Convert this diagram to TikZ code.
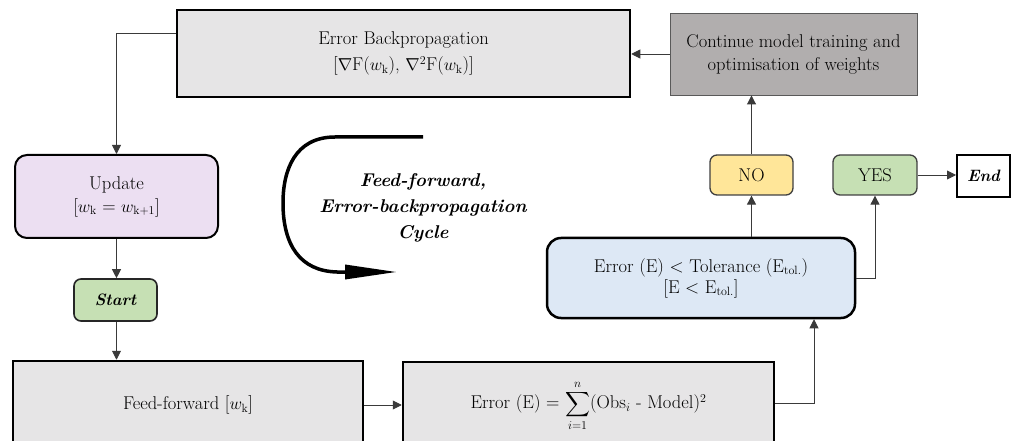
\documentclass[tikz,border=0pt]{standalone}
\usepackage{amsmath}
\usetikzlibrary{arrows.meta}
\definecolor{boxgray}{HTML}{E6E5E6}
\definecolor{contgray}{HTML}{B1AEAE}
\definecolor{lav}{HTML}{ECDFF2}
\definecolor{grn}{HTML}{C6E0B4}
\definecolor{ylw}{HTML}{FFE699}
\definecolor{lblue}{HTML}{DDE8F5}
\definecolor{linegray}{HTML}{3A3A3A}
\begin{document}
\begin{tikzpicture}[x=1pt,y=-1pt,
  base/.style={inner sep=0pt, align=center, font=\fontsize{18.5}{23}\selectfont},
  bigbox/.style={base, draw=black, fill=boxgray, line width=2.5pt},
  contbox/.style={base, draw=black!65, fill=contgray, line width=0.9pt},
  updbox/.style={base, draw=black, fill=lav, line width=2pt, rounded corners=12pt},
  startbox/.style={base, draw=black!85, fill=grn, line width=1.6pt, rounded corners=7pt},
  smallbox/.style={base, draw=black!75, line width=1.3pt, rounded corners=7pt},
  tolbox/.style={base, draw=black, fill=lblue, line width=2.5pt, rounded corners=14pt},
  endbox/.style={base, draw=black, fill=white, line width=2pt},
  conn/.style={draw=linegray, line width=0.9pt},
  arr/.style={conn, -{Triangle[length=9pt,width=9pt]}},
  cyclearrow/.style={line width=3.5pt, -{Triangle[length=52pt,width=14pt]}},
  cycletext/.style={align=center, font=\fontsize{18.5}{26}\selectfont\bfseries\itshape}
]
\useasboundingbox (0,0) rectangle (1013,441);
\clip (0,0) rectangle (1013,441);

\node[bigbox, minimum width=453pt, minimum height=87pt, font=\fontsize{18.5}{26}\selectfont] (eb) at (403.5,53.5)
  {Error Backpropagation\\{}[$\nabla$F($w_\mathrm{k}$), $\nabla^2$F($w_\mathrm{k}$)]};
\node[contbox, minimum width=247pt, minimum height=82pt, font=\fontsize{18.5}{23}\selectfont] (cont) at (793.5,54)
  {Continue model training and\\optimisation of weights};
\node[updbox, minimum width=203pt, minimum height=83pt] (upd) at (116.5,196.5)
  {Update\\{}[$w_\mathrm{k}$ = $w_\mathrm{k+1}$]};
\node[startbox, minimum width=83pt, minimum height=42pt, font=\fontsize{16.5}{20}\selectfont] (start) at (115.5,300)
  {\bfseries\itshape Start};
\node[bigbox, minimum width=350pt, minimum height=88pt] (ff) at (188,405)
  {Feed-forward [$w_\mathrm{k}$]};
\node[bigbox, minimum width=371pt, minimum height=87pt] (err) at (588.5,405.5)
  {Error (E) = $\displaystyle\sum_{i=1}^{n}$(Obs$_i$ - Model)$^2$};
\node[tolbox, minimum width=308pt, minimum height=80pt, font=\fontsize{18.5}{21}\selectfont] (tol) at (701,278)
  {Error (E) < Tolerance (E$_\mathrm{tol.}$)\\{}[E < E$_\mathrm{tol.}$]};
\node[smallbox, fill=ylw, minimum width=83pt, minimum height=40pt] (no) at (751.5,175) {NO};
\node[smallbox, fill=grn, minimum width=84pt, minimum height=40pt] (yes) at (875,175) {YES};
\node[endbox, minimum width=53pt, minimum height=42pt, font=\fontsize{16.5}{20}\selectfont] (end) at (983.5,176) {\bfseries\itshape End};

\draw[arr] (cont.west) -- (cont.west -| eb.east);
\draw[arr] ([yshift=20pt]eb.west) -| (upd.north);
\draw[arr] (upd.south) -- (upd.south |- start.north);
\draw[arr] (start.south -| upd.south) -- (upd.south |- ff.north);
\draw[arr] (ff.east) -- (ff.east -| err.west);
\draw[arr] ([yshift=2pt]err.east) -| ([xshift=113pt]tol.south);
\draw[arr] (tol.north -| no.south) -- (no.south);
\draw[arr] (no.north) -- (no.north |- cont.south);
\draw[arr] (tol.east) -| (yes.south);
\draw[arr] (yes.east) -- (yes.east -| end.west);

\draw[cyclearrow] (423,137) -- (335,137)
  .. controls (295,137) and (283,170) .. (283,203)
  .. controls (283,245) and (300,271) .. (337,272) -- (397,272);
\node[cycletext] (cyc) at (423,208) {Feed-forward,\\Error-backpropagation\\Cycle};
\end{tikzpicture}
\end{document}
